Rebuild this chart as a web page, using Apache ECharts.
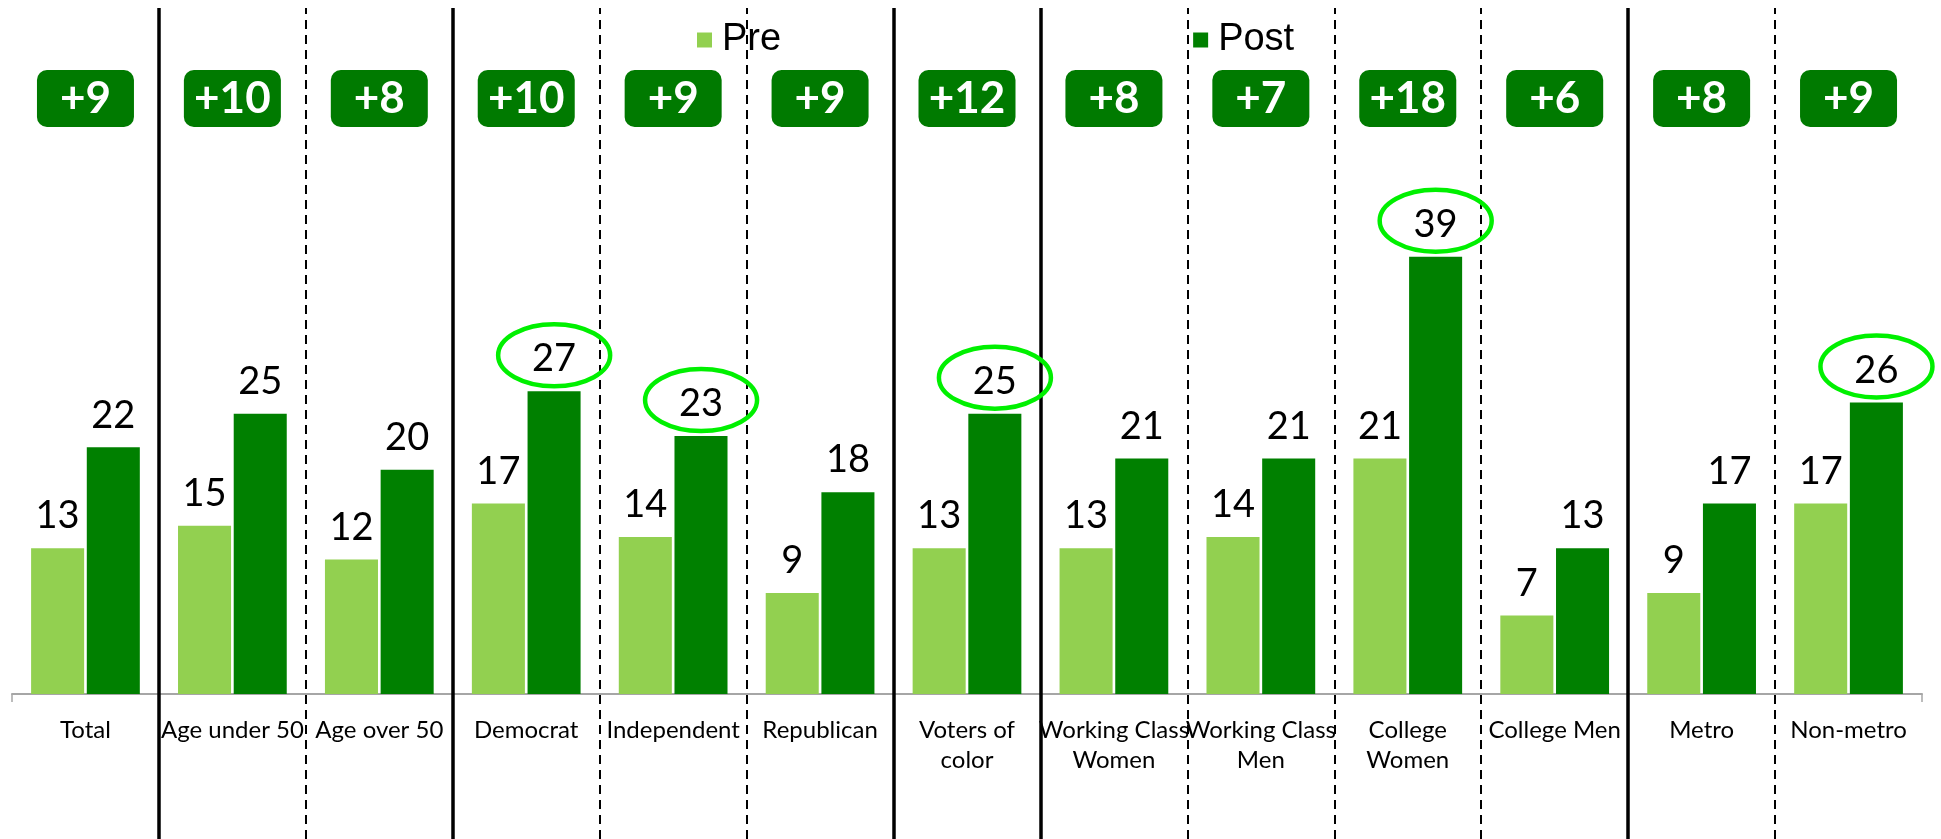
<!DOCTYPE html>
<html>
<head>
<meta charset="utf-8">
<script src="https://cdn.jsdelivr.net/npm/echarts@6/dist/echarts.min.js"></script>
<style>
html, body { margin: 0; padding: 0; background: #fff; }
#chart { width: 1941px; height: 839px; }
</style>
</head>
<body>
<div id="chart"></div>
<script>
const categories = ['Total', 'Age under 50', 'Age over 50', 'Democrat', 'Independent', 'Republican', 'Voters of\ncolor', 'Working Class\nWomen', 'Working Class\nMen', 'College\nWomen', 'College Men', 'Metro', 'Non-metro']
const preValues = [13, 15, 12, 17, 14, 9, 13, 13, 14, 21, 7, 9, 17]
const postValues = [22, 25, 20, 27, 23, 18, 25, 21, 21, 39, 13, 17, 26]
// post values that get a green ring
const circled = [3, 4, 6, 9, 12]
// solid separators stand before these category indexes, the rest are dashed
const solidBefore = [1, 3, 6, 7, 11]

const labelFont = 'Lato, "Noto Sans", sans-serif'

const separators = []
for (let i = 1; i < categories.length; i++) {
  const solid = solidBefore.includes(i)
  separators.push({
    xAxis: i,
    lineStyle: solid ? { color: '#000', width: 3.5, type: 'solid' } : { color: '#000', width: 2, type: [9, 6] }
  })
}

const myChart = echarts.init(document.getElementById('chart'))
myChart.setOption({
  animation: false,
  legend: {
    data: ['Pre', 'Post'],
    left: 697,
    top: 21,
    padding: 0,
    itemWidth: 15,
    itemHeight: 15,
    itemGap: 412,
    icon: 'rect',
    textStyle: { fontSize: 38, fontFamily: '"Liberation Sans", Arial, sans-serif', color: '#000', padding: [0, 0, 0, 5] }
  },
  // grid 0 holds the bars, grid 1 spans the whole height for separators and badges
  grid: [
    { left: 12, right: 19, top: 10, bottom: 145, outerBoundsMode: 'none' },
    { left: 12, right: 19, top: 8, bottom: 0, outerBoundsMode: 'none' }
  ],
  xAxis: [
    {
      type: 'category',
      gridIndex: 0,
      data: categories,
      position: 'bottom',
      axisLine: { onZero: false, lineStyle: { color: '#a6a6a6', width: 2 } },
      axisTick: { show: true, interval: 0, length: 8, lineStyle: { color: '#a6a6a6', width: 1.5 } },
      axisLabel: { show: true, interval: 0, margin: 21, fontSize: 24, lineHeight: 30, color: '#000', fontFamily: labelFont },
      splitLine: { show: false }
    },
    {
      type: 'category',
      gridIndex: 1,
      data: categories,
      position: 'top',
      axisLine: { show: false },
      axisTick: { show: false },
      splitLine: { show: false },
      axisLabel: {
        interval: 0,
        inside: true,
        margin: 62,
        formatter: (v, i) => '+' + (postValues[i] - preValues[i]),
        color: '#fff',
        fontWeight: 'bold',
        fontSize: 44,
        fontFamily: labelFont,
        backgroundColor: '#007a00',
        borderRadius: 10,
        width: 97,
        height: 57,
        lineHeight: 57,
        align: 'center'
      }
    },
    { type: 'value', gridIndex: 1, min: 0, max: categories.length, show: false }
  ],
  yAxis: [
    { type: 'value', gridIndex: 0, min: 0, max: 61, show: false },
    { type: 'value', gridIndex: 1, min: 0, max: 1, show: false }
  ],
  series: [
    {
      name: 'Pre',
      type: 'bar',
      data: preValues,
      barCategoryGap: '26%',
      barGap: '5%',
      itemStyle: { color: '#92d050' },
      label: { show: true, position: 'top', distance: 13, fontSize: 38, fontFamily: labelFont, color: '#000' }
    },
    {
      name: 'Post',
      type: 'bar',
      data: postValues,
      itemStyle: { color: '#008000' },
      label: { show: true, position: 'top', distance: 13, fontSize: 38, fontFamily: labelFont, color: '#000' }
    },
    {
      name: 'separators',
      type: 'scatter',
      xAxisIndex: 2,
      yAxisIndex: 1,
      data: [[0, 0]],
      symbolSize: 0,
      silent: true,
      markLine: {
        silent: true,
        symbol: 'none',
        label: { show: false },
        data: separators
      }
    },
    {
      name: 'rings',
      type: 'custom',
      data: circled.map(i => [i, postValues[i]]),
      z: 5,
      renderItem: (params, api) => {
        const top = api.coord([api.value(0), api.value(1)])
        const band = api.size([1, 0])[0]
        return {
          type: 'ellipse',
          shape: { cx: top[0] + band * 0.19, cy: top[1] - 36, rx: 56, ry: 31 },
          style: { fill: 'none', stroke: '#00f000', lineWidth: 4.5 }
        }
      }
    }
  ]
})
</script>
</body>
</html>
